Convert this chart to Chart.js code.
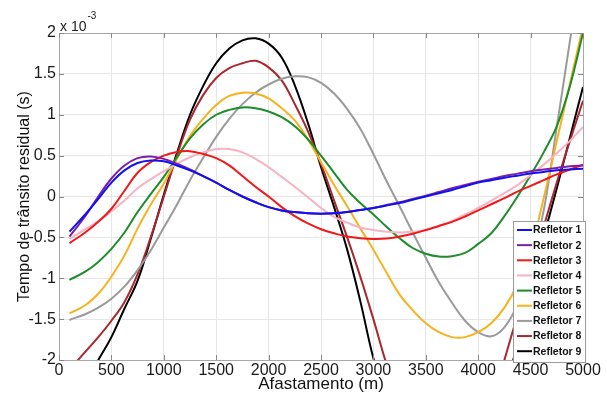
<!DOCTYPE html>
<html><head><meta charset="utf-8">
<script src="https://cdn.jsdelivr.net/npm/chart.js@4.4.1/dist/chart.umd.min.js"></script>
<style>html,body{margin:0;padding:0;background:#fff;} #wrap{width:607px;height:398px;}</style>
</head><body><div id="wrap"><canvas id="c" width="607" height="398"></canvas></div>
<script>
// offsets (m)
const offsets = [100,250,375,500,625,750,875,1000,1125,1250,1375,1500,1625,1750,1875,2000,2125,2250,2375,2500,2625,2750,2875,3000,3125,3250,3375,3500,3625,3750,3875,4000,4125,4250,4375,4500,4625,4750,4875,5000];
// residual transit time (x 10^-3 s)
const refletor1 = [-0.43,-0.22,-0.03,0.17,0.32,0.41,0.44,0.43,0.38,0.32,0.25,0.17,0.08,0.00,-0.07,-0.13,-0.17,-0.19,-0.205,-0.21,-0.205,-0.19,-0.165,-0.14,-0.11,-0.08,-0.04,0.00,0.04,0.08,0.125,0.17,0.20,0.23,0.255,0.28,0.30,0.32,0.33,0.34];
const refletor2 = [-0.49,-0.24,0.00,0.22,0.38,0.47,0.49,0.46,0.40,0.33,0.25,0.17,0.08,0.00,-0.07,-0.13,-0.17,-0.19,-0.205,-0.21,-0.205,-0.19,-0.165,-0.14,-0.105,-0.07,-0.03,0.01,0.055,0.10,0.14,0.18,0.215,0.25,0.28,0.31,0.33,0.35,0.37,0.38];
const refletor3 = [-0.57,-0.44,-0.31,-0.15,0.07,0.29,0.42,0.50,0.545,0.555,0.52,0.47,0.38,0.25,0.12,0.00,-0.13,-0.24,-0.33,-0.40,-0.45,-0.49,-0.51,-0.52,-0.515,-0.49,-0.455,-0.41,-0.36,-0.31,-0.245,-0.17,-0.095,-0.02,0.06,0.13,0.20,0.27,0.33,0.39];
const refletor4 = [-0.52,-0.40,-0.30,-0.18,-0.05,0.10,0.21,0.31,0.40,0.48,0.54,0.58,0.58,0.54,0.46,0.36,0.24,0.12,-0.01,-0.14,-0.25,-0.32,-0.38,-0.41,-0.43,-0.44,-0.43,-0.41,-0.36,-0.30,-0.22,-0.14,-0.05,0.04,0.14,0.26,0.39,0.53,0.68,0.85];
const refletor5 = [-1.02,-0.92,-0.80,-0.64,-0.44,-0.19,0.03,0.24,0.48,0.71,0.88,1.00,1.06,1.09,1.08,1.04,0.97,0.86,0.70,0.50,0.29,0.08,-0.08,-0.22,-0.37,-0.51,-0.63,-0.70,-0.735,-0.73,-0.69,-0.58,-0.45,-0.24,0.00,0.26,0.54,0.86,1.35,2.00];
const refletor6 = [-1.43,-1.33,-1.19,-0.98,-0.72,-0.39,-0.10,0.16,0.46,0.74,0.95,1.12,1.23,1.27,1.26,1.20,1.08,0.93,0.70,0.42,0.14,-0.12,-0.39,-0.65,-0.93,-1.20,-1.39,-1.55,-1.66,-1.72,-1.72,-1.66,-1.55,-1.36,-1.07,-0.65,-0.02,0.68,1.38,2.08];
const refletor7 = [-1.51,-1.44,-1.36,-1.25,-1.10,-0.90,-0.66,-0.38,-0.10,0.20,0.47,0.73,0.95,1.13,1.27,1.37,1.44,1.47,1.46,1.39,1.26,1.07,0.83,0.52,0.19,-0.12,-0.44,-0.75,-1.05,-1.30,-1.52,-1.66,-1.71,-1.60,-1.32,-0.85,-0.17,0.85,1.90,2.95];
const refletor8 = [-2.12,-1.90,-1.72,-1.52,-1.29,-0.95,-0.50,0.00,0.50,0.94,1.24,1.45,1.57,1.63,1.66,1.58,1.42,1.13,0.80,0.40,-0.05,-0.50,-0.98,-1.50,-2.05,-2.50,-2.90,-3.20,-3.35,-3.40,-3.30,-3.00,-2.55,-2.00,-1.45,-0.92,-0.37,0.17,0.68,1.17];
const refletor9 = [-2.60,-2.30,-2.00,-1.72,-1.37,-1.03,-0.52,0.02,0.53,1.00,1.35,1.63,1.81,1.91,1.935,1.87,1.70,1.36,0.90,0.36,-0.13,-0.65,-1.28,-1.98,-2.50,-3.00,-3.40,-3.70,-3.85,-3.90,-3.80,-3.40,-3.00,-2.40,-1.80,-1.15,-0.50,0.10,0.72,1.34];

const seriesValues = [refletor1,refletor2,refletor3,refletor4,refletor5,refletor6,refletor7,refletor8,refletor9];
const seriesNames = ['Refletor 1','Refletor 2','Refletor 3','Refletor 4','Refletor 5','Refletor 6','Refletor 7','Refletor 8','Refletor 9'];
const seriesColors = ['#1010f0','#7a1fa8','#f01818','#f7b3c3','#1e8c2a','#f7b21e','#9a9a9a','#a8282e','#000000'];

const xTickValues = [0,500,1000,1500,2000,2500,3000,3500,4000,4500,5000];
const xTickLabels = ['0','500','1000','1500','2000','2500','3000','3500','4000','4500','5000'];
const yTickValues = [-2,-1.5,-1,-0.5,0,0.5,1,1.5,2];
const yTickLabels = ['-2','-1.5','-1','-0.5','0','0.5','1','1.5','2'];
const xTitle = 'Afastamento (m)';
const yTitle = 'Tempo de trânsito residual (s)';
const exponentBase = 'x 10';
const exponentPower = '-3';

const NARROW = "'Liberation Sans Narrow','Arial Narrow','Liberation Sans',Arial,sans-serif";
const SANS = "'Liberation Sans',Arial,sans-serif";

const decor = {
  id: 'decor',
  afterDatasetsDraw(chart) {
    const ctx = chart.ctx, a = chart.chartArea;
    const xs = chart.scales.x, ys = chart.scales.y;
    ctx.save();
    // box
    ctx.strokeStyle = '#a8a8a8';
    ctx.lineWidth = 1;
    ctx.strokeRect(Math.round(a.left)+0.5, Math.round(a.top)+0.5, Math.round(a.right-a.left), Math.round(a.bottom-a.top));
    // inner ticks
    ctx.strokeStyle = '#888';
    ctx.beginPath();
    xTickValues.forEach(v => {
      const p = Math.round(xs.getPixelForValue(v)) + 0.5;
      ctx.moveTo(p, a.bottom); ctx.lineTo(p, a.bottom - 5);
      ctx.moveTo(p, a.top); ctx.lineTo(p, a.top + 5);
    });
    yTickValues.forEach(v => {
      const p = Math.round(ys.getPixelForValue(v)) + 0.5;
      ctx.moveTo(a.left, p); ctx.lineTo(a.left + 5, p);
      ctx.moveTo(a.right, p); ctx.lineTo(a.right - 5, p);
    });
    ctx.stroke();
    // exponent label
    ctx.fillStyle = '#222';
    ctx.textBaseline = 'alphabetic';
    ctx.textAlign = 'left';
    ctx.font = "14px " + NARROW;
    ctx.fillText(exponentBase, 60, 31);
    const w = ctx.measureText(exponentBase).width;
    ctx.font = "10px " + NARROW;
    ctx.fillText(exponentPower, 60 + w + 1, 19);
    // legend
    const L = 513, T = 221, R = 585, B = 362;
    ctx.fillStyle = '#fff';
    ctx.fillRect(L, T, R - L, B - T);
    ctx.strokeStyle = '#9a9a9a';
    ctx.lineWidth = 1;
    ctx.strokeRect(L + 0.5, T + 0.5, R - L, B - T);
    ctx.font = "bold 10.5px " + SANS;
    ctx.textBaseline = 'middle';
    chart.data.datasets.forEach((ds, i) => {
      const y = 230 + i * 15.15;
      ctx.strokeStyle = ds.borderColor;
      ctx.lineWidth = 2;
      ctx.beginPath(); ctx.moveTo(517, y); ctx.lineTo(532, y); ctx.stroke();
      ctx.fillStyle = '#111';
      ctx.fillText(ds.label, 533, y + 0.5);
    });
    ctx.restore();
  }
};

const datasets = seriesValues.map((vals, i) => ({
  label: seriesNames[i],
  data: offsets.map((x, j) => ({x: x, y: vals[j]})),
  borderColor: seriesColors[i],
  backgroundColor: seriesColors[i],
  borderWidth: 2,
  pointRadius: 0,
  tension: 0.4,
  fill: false
}));

new Chart(document.getElementById('c'), {
  type: 'line',
  data: { datasets },
  plugins: [decor],
  options: {
    responsive: false,
    animation: false,
    devicePixelRatio: 1,
    layout: { padding: { top: 33, right: 24, left: 0, bottom: 0 } },
    plugins: { legend: { display: false }, tooltip: { enabled: false } },
    scales: {
      x: {
        type: 'linear', min: 0, max: 5000,
        afterBuildTicks: s => { s.ticks = xTickValues.map(v => ({ value: v })); },
        afterFit: s => { s.height = 38; },
        ticks: {
          autoSkip: false, maxRotation: 0, padding: 1, color: '#1a1a1a',
          font: { family: NARROW, size: 16 },
          callback: (v) => xTickLabels[xTickValues.indexOf(v)]
        },
        grid: { color: '#e6e6e6', drawTicks: false },
        border: { display: false },
        title: { display: true, text: xTitle, color: '#111', font: { family: NARROW, size: 17 }, padding: { top: 0, bottom: 3 } }
      },
      y: {
        type: 'linear', min: -2, max: 2,
        afterBuildTicks: s => { s.ticks = yTickValues.map(v => ({ value: v })); },
        afterFit: s => { s.width = 59; },
        ticks: {
          autoSkip: false, padding: 3, color: '#1a1a1a',
          font: { family: NARROW, size: 16 },
          callback: (v) => yTickLabels[yTickValues.indexOf(v)]
        },
        grid: { color: '#e6e6e6', drawTicks: false },
        border: { display: false },
        title: { display: true, text: yTitle, color: '#111', font: { family: SANS, size: 16 }, padding: { top: 15, bottom: 0 } }
      }
    }
  }
});
</script>
</body></html>
